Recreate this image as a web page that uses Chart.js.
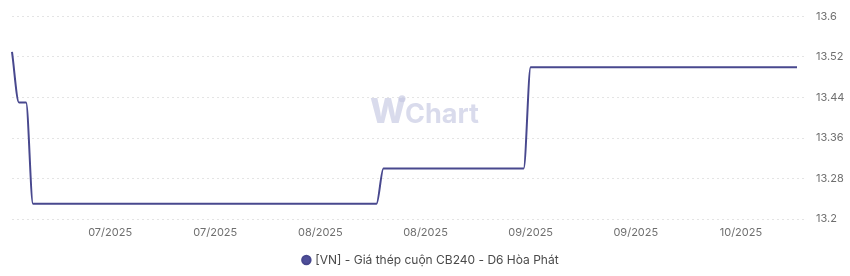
<!DOCTYPE html>
<html>
<head>
<meta charset="utf-8">
<title>Giá thép cuộn CB240 - D6 Hòa Phát</title>
<script src="https://cdn.jsdelivr.net/npm/chart.js"></script>
<style>
    html, body { margin: 0; padding: 0; background: #ffffff; }
    #wrap { width: 850px; height: 276px; position: relative; }
</style>
</head>
<body>
<div id="wrap"><canvas id="chart"></canvas></div>
<script>
    'use strict';

    const SERIES_NAME = '[VN] - Giá thép cuộn CB240 - D6 Hòa Phát';
    const START_DATE = '2025-06-20'; // first daily observation
    const Y_MIN = 13.2;
    const Y_MAX = 13.6;
    const Y_STEP = 0.08;

    // daily prices (million VND / ton)
    const prices = [
        13.53, 13.43, 13.43,
        13.23, 13.23, 13.23, 13.23, 13.23, 13.23, 13.23, 13.23, 13.23, 13.23,
        13.23, 13.23, 13.23, 13.23, 13.23, 13.23, 13.23, 13.23, 13.23, 13.23,
        13.23, 13.23, 13.23, 13.23, 13.23, 13.23, 13.23, 13.23, 13.23, 13.23,
        13.23, 13.23, 13.23, 13.23, 13.23, 13.23, 13.23, 13.23, 13.23, 13.23,
        13.23, 13.23, 13.23, 13.23, 13.23, 13.23, 13.23, 13.23, 13.23, 13.23,
        13.30, 13.30, 13.30, 13.30, 13.30, 13.30, 13.30, 13.30, 13.30, 13.30,
        13.30, 13.30, 13.30, 13.30, 13.30, 13.30, 13.30, 13.30, 13.30, 13.30,
        13.30,
        13.50, 13.50, 13.50, 13.50, 13.50, 13.50, 13.50, 13.50, 13.50, 13.50,
        13.50, 13.50, 13.50, 13.50, 13.50, 13.50, 13.50, 13.50, 13.50, 13.50,
        13.50, 13.50, 13.50, 13.50, 13.50, 13.50, 13.50, 13.50, 13.50, 13.50,
        13.50, 13.50, 13.50, 13.50, 13.50, 13.50, 13.50, 13.50, 13.50
    ];

    // one date label per price
    const dates = [];
    (function () {
        const d = new Date(START_DATE + 'T00:00:00');
        for (let i = 0; i < prices.length; i++) {
            const mm = String(d.getMonth() + 1).padStart(2, '0');
            dates.push(`${mm}/${d.getFullYear()}`);
            d.setDate(d.getDate() + 1);
        }
    })();

    // x labels shown every 15 days starting from the 15th point
    const TICK_FIRST = 14;
    const TICK_EVERY = 15;

    const watermark = {
        id: 'watermark',
        beforeDatasetsDraw(chart) {
            const { ctx, chartArea } = chart;
            const cx = chart.width / 2;
            const cy = (chartArea.top + chartArea.bottom) / 2 - 5;
            ctx.save();
            ctx.textBaseline = 'middle';
            ctx.fillStyle = 'rgba(196, 200, 226, 0.65)';
            ctx.font = '800 34px Inter, sans-serif';
            const wW = ctx.measureText('W').width;
            ctx.font = '700 27px Inter, sans-serif';
            const cW = ctx.measureText('Chart').width;
            const x0 = cx - (wW + cW) / 2;
            ctx.font = '800 34px Inter, sans-serif';
            ctx.textAlign = 'left';
            ctx.fillText('W', x0, cy);
            ctx.font = '700 27px Inter, sans-serif';
            ctx.fillText('Chart', x0 + wW - 1, cy + 2);
            ctx.beginPath();
            ctx.arc(x0 + wW - 4, cy - 14, 3.5, 0, Math.PI * 2);
            ctx.fill();
            ctx.restore();
        }
    };

    const ctx = document.getElementById('chart').getContext('2d');
    new Chart(ctx, {
        type: 'line',
        data: {
            labels: dates,
            datasets: [{
                label: SERIES_NAME,
                data: prices,
                borderColor: '#48488e',
                backgroundColor: '#4f4f9a',
                borderWidth: 2,
                pointRadius: 0,
                pointHoverRadius: 0,
                cubicInterpolationMode: 'monotone',
                fill: false
            }]
        },
        options: {
            responsive: true,
            maintainAspectRatio: false,
            animation: false,
            layout: {
                padding: { left: 12, top: 2, right: 0, bottom: 0 }
            },
            plugins: {
                legend: {
                    position: 'bottom',
                    labels: {
                        usePointStyle: true,
                        pointStyle: 'circle',
                        boxWidth: 6,
                        boxHeight: 6,
                        padding: 8,
                        color: '#4a4a4a',
                        font: { family: 'Inter, sans-serif', size: 12 }
                    }
                },
                tooltip: { enabled: false }
            },
            scales: {
                x: {
                    afterFit: function (scale) { scale.height = 27; },
                    grid: { display: false, drawTicks: false },
                    border: { display: false },
                    ticks: {
                        autoSkip: false,
                        maxRotation: 0,
                        minRotation: 0,
                        padding: 7,
                        color: '#6f6f6f',
                        font: { family: 'Inter, sans-serif', size: 11 },
                        callback: function (val, i) {
                            if (i >= TICK_FIRST && (i - TICK_FIRST) % TICK_EVERY === 0) {
                                return dates[i];
                            }
                            return '';
                        }
                    }
                },
                y: {
                    position: 'right',
                    min: Y_MIN,
                    max: Y_MAX,
                    afterFit: function (scale) { scale.width = 53; },
                    grid: {
                        color: '#e4e4e4',
                        lineWidth: 1,
                        drawTicks: true,
                        tickLength: 8,
                        tickColor: '#e4e4e4',
                        tickBorderDash: [2, 3]
                    },
                    border: { display: false, dash: [2, 3] },
                    ticks: {
                        stepSize: Y_STEP,
                        padding: 11,
                        color: '#6f6f6f',
                        font: { family: 'Inter, sans-serif', size: 11, lineHeight: 1 },
                        callback: v => String(parseFloat(v.toFixed(2)))
                    }
                }
            }
        },
        plugins: [watermark]
    });
</script>
</body>
</html>
